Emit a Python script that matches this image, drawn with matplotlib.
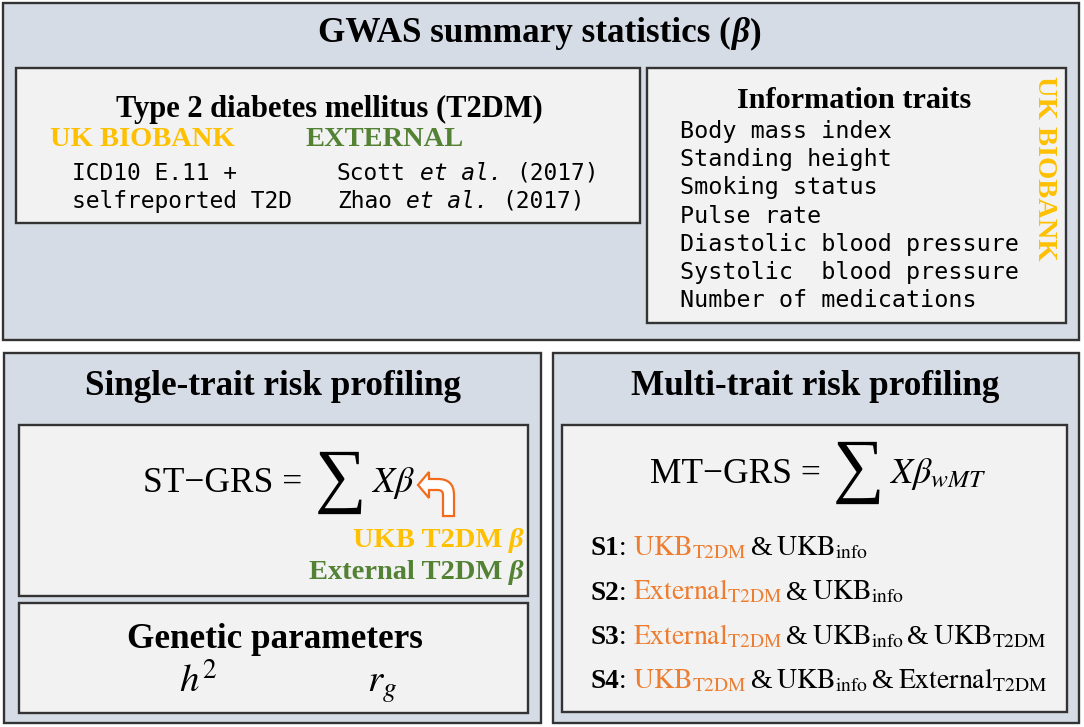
import matplotlib
matplotlib.use("Agg")
import matplotlib.pyplot as plt
from matplotlib.patches import Rectangle, PathPatch
from matplotlib.path import Path

plt.rcParams["mathtext.fontset"] = "stix"

SERIF = "Liberation Serif"
MONO = "DejaVu Sans Mono"

YELLOW = "#FFC000"
GREEN = "#548235"
ORANGE = "#ED7D31"
ARROW = "#F26B1D"
PANEL = "#D6DCE5"
INNER = "#F2F2F2"
EDGE = "#333333"

# --- content ---
title = "GWAS summary statistics"
t2dm_title = "Type 2 diabetes mellitus (T2DM)"
ukb_t2dm_def = ["ICD10 E.11 +", "selfreported T2D"]
external_authors = ["Scott", "Zhao"]
external_years = ["2017", "2017"]
info_title = "Information traits"
info_traits = ["Body mass index", "Standing height", "Smoking status", "Pulse rate",
               "Diastolic blood pressure", "Systolic  blood pressure",
               "Number of medications"]
scenario_names = ["S1", "S2", "S3", "S4"]
scenario_sources = [
    [("UKB", "T2DM"), ("UKB", "info")],
    [("External", "T2DM"), ("UKB", "info")],
    [("External", "T2DM"), ("UKB", "info"), ("UKB", "T2DM")],
    [("UKB", "T2DM"), ("UKB", "info"), ("External", "T2DM")],
]

fig = plt.figure(figsize=(10.84, 7.27), dpi=100)
ax = fig.add_axes([0, 0, 1, 1])
ax.set_xlim(0, 1084)
ax.set_ylim(727, 0)
ax.axis("off")
renderer = fig.canvas.get_renderer()


def box(x0, y0, x1, y1, fc):
    ax.add_patch(Rectangle((x0, y0), x1 - x0, y1 - y0, facecolor=fc,
                           edgecolor=EDGE, lw=1.7))


def run(pieces, x, y, ha="left"):
    # pieces: (text, kwargs, gap after, dy)
    texts, widths = [], []
    for p in pieces:
        s, kw, gap = p[0], dict(p[1]), p[2]
        dy = p[3] if len(p) > 3 else 0
        va = kw.pop("va", "baseline")
        t = ax.text(0, y + dy, s, va=va, ha="left", **kw)
        texts.append(t)
        widths.append(t.get_window_extent(renderer).width + gap)
    total = sum(widths) - pieces[-1][2]
    if ha == "center":
        x -= total / 2
    elif ha == "right":
        x -= total
    for t, w in zip(texts, widths):
        t.set_x(x)
        x += w


def serif(size, color="black", weight="normal", style="normal"):
    return dict(family=SERIF, fontsize=size, color=color, fontweight=weight,
                fontstyle=style)


# --- boxes ---
box(3, 3, 1079, 340, PANEL)
box(16, 68, 640, 223, INNER)
box(647, 68, 1066, 323, INNER)
box(4, 353, 541, 723, PANEL)
box(19, 425, 528, 596, INNER)
box(19, 603, 528, 713, INNER)
box(553, 353, 1079, 723, PANEL)
box(562, 425, 1067, 712, INNER)

# --- top panel ---
run([(title + " (", serif(25.3, weight="bold"), 0),
     ("β", serif(25.3, weight="bold", style="italic"), 1),
     (")", serif(25.3, weight="bold"), 0)], 540, 42, "center")

ax.text(329, 117, t2dm_title, ha="center", va="baseline", **serif(22, weight="bold"))
ax.text(50, 146, "UK BIOBANK", ha="left", va="baseline", **serif(20.5, YELLOW, "bold"))
ax.text(305, 146, "EXTERNAL", ha="left", va="baseline", **serif(20.5, GREEN, "bold"))
for i, line in enumerate(ukb_t2dm_def):
    ax.text(72, 180 + 28 * i, line, family=MONO, fontsize=16.5, va="baseline")
for i, (name, year) in enumerate(zip(external_authors, external_years)):
    run([(name, dict(family=MONO, fontsize=16.5), 13.8),
         ("et al.", dict(family=MONO, fontsize=16.5, fontstyle="italic"), 13.8),
         ("(" + year + ")", dict(family=MONO, fontsize=16.5), 0)], 337, 180 + 28 * i)

ax.text(854, 108, info_title, ha="center", va="baseline", **serif(21.8, weight="bold"))
for i, trait in enumerate(info_traits):
    ax.text(680, 138 + 28.2 * i, trait, family=MONO, fontsize=16.8, va="baseline")
ax.text(1045, 168, "UK BIOBANK", rotation=270, ha="center", va="center",
        **serif(20.5, YELLOW, "bold"))

# --- single-trait panel ---
ax.text(273, 395, "Single-trait risk profiling", ha="center", va="baseline",
        **serif(25.3, weight="bold"))
run([("ST\u2212GRS =", serif(25.5), 12),
     ("\u2211", dict(serif(52), va="center"), 5, -11),
     (r"$X\beta$", dict(fontsize=26), 0)], 143, 492)

arrow_verts = [(418, 485), (429, 472), (429, 479), (438, 479), (454, 479), (454, 495),
               (454, 516), (443, 516), (443, 495), (443, 490), (438, 490), (429, 490),
               (429, 498), (418, 485)]
arrow_codes = [Path.MOVETO, Path.LINETO, Path.LINETO, Path.LINETO, Path.CURVE3, Path.CURVE3,
               Path.LINETO, Path.LINETO, Path.LINETO, Path.CURVE3, Path.CURVE3, Path.LINETO,
               Path.LINETO, Path.CLOSEPOLY]
ax.add_patch(PathPatch(Path(arrow_verts, arrow_codes), facecolor="white",
                       edgecolor=ARROW, lw=1.6))

run([("UKB T2DM", serif(20.5, YELLOW, "bold"), 6),
     ("β", serif(20.5, YELLOW, "bold", "italic"), 0)], 523, 547, "right")
run([("External T2DM", serif(20.5, GREEN, "bold"), 6),
     ("β", serif(20.5, GREEN, "bold", "italic"), 0)], 523, 579, "right")

ax.text(275, 648, "Genetic parameters", ha="center", va="baseline",
        **serif(25.3, weight="bold"))
ax.text(198, 692, r"$h^2$", ha="center", va="baseline", fontsize=28)
ax.text(382, 692, r"$r_g$", ha="center", va="baseline", fontsize=28)

# --- multi-trait panel ---
ax.text(815, 395, "Multi-trait risk profiling", ha="center", va="baseline",
        **serif(25.3, weight="bold"))
run([("MT\u2212GRS =", serif(25.5), 12),
     ("\u2211", dict(serif(52), va="center"), 5, -11),
     (r"$X\beta_{wMT}$", dict(fontsize=26), 0)], 650, 483)

for i, (name, srcs) in enumerate(zip(scenario_names, scenario_sources)):
    pieces = [(name, serif(19.5, weight="bold"), 0), (":", serif(19.5), 7)]
    for j, (src, sub) in enumerate(srcs):
        col = ORANGE if j == 0 else "black"
        pieces.append((r"$\mathrm{%s}_{\mathrm{%s}}$" % (src, sub),
                       dict(fontsize=20, color=col), 4))
        if j < len(srcs) - 1:
            pieces.append(("&", serif(20), 4))
    run(pieces, 590, 555 + 44.5 * i)

fig.savefig("out.png", dpi=100)
